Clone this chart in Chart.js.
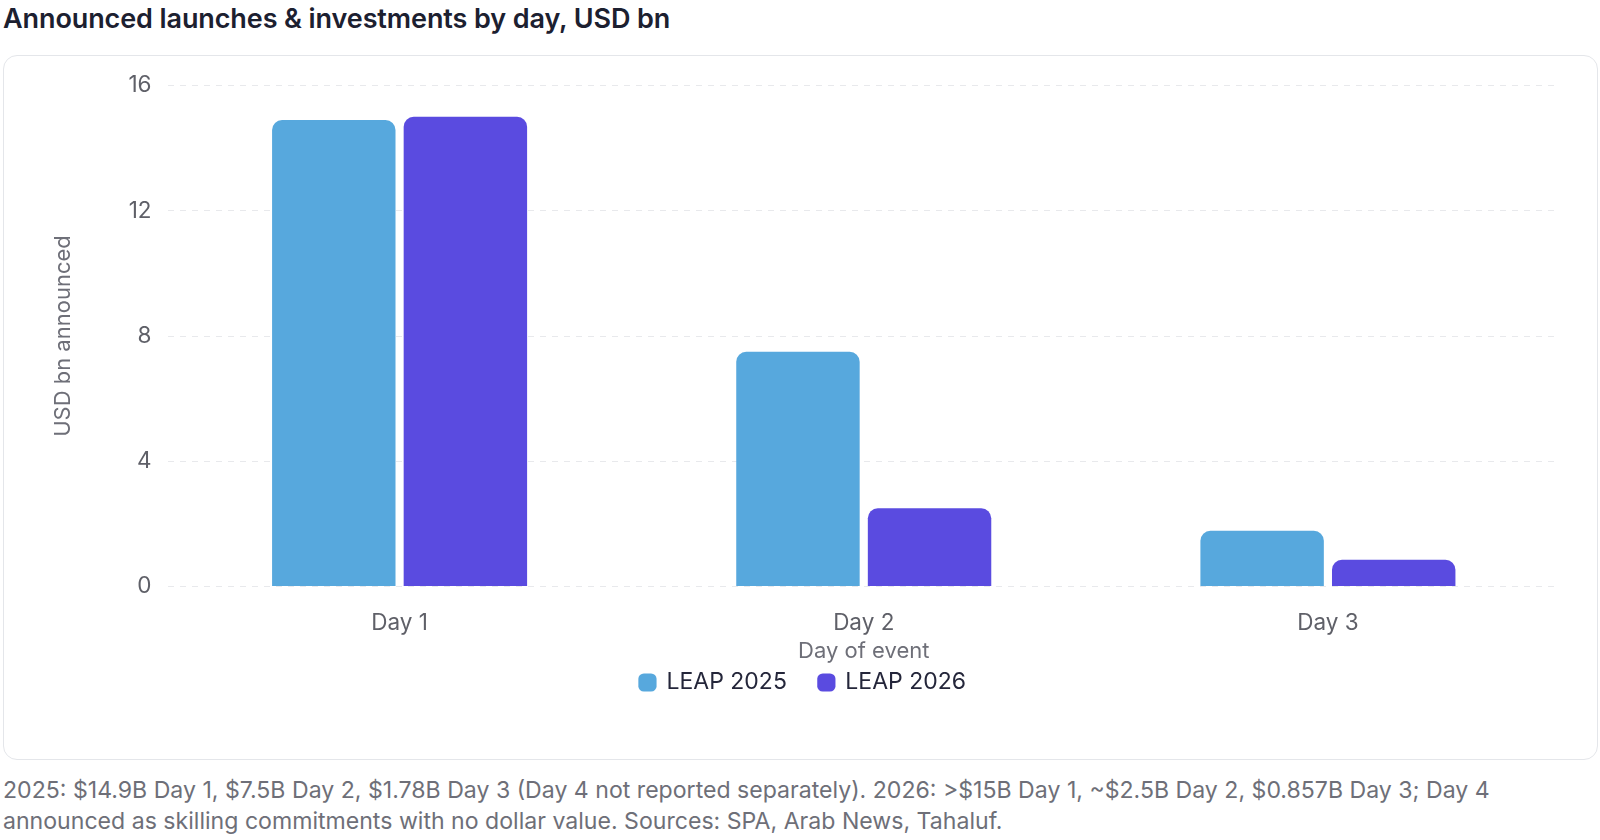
<!DOCTYPE html>
<html><head><meta charset="utf-8">
<script src="https://cdn.jsdelivr.net/npm/chart.js@4.4.1/dist/chart.umd.min.js"></script>
<style>
html,body{margin:0;padding:0;background:#fff;width:1600px;height:840px;overflow:hidden;font-family:Inter,"Noto Sans",sans-serif;}
#title{position:absolute;left:3px;top:2px;font-size:27px;font-weight:600;color:#1c2030;letter-spacing:-0.1px;}
#card{position:absolute;left:3px;top:55px;width:1593px;height:703px;border:1px solid #e4e6ea;border-radius:14px;background:#fff;}
#wrap{position:absolute;left:0;top:0;width:1593px;height:703px;}
#foot{position:absolute;left:3px;top:775px;width:1540px;font-size:23.1px;line-height:31px;color:#6e6f78;}
</style></head>
<body>
<div id="title">Announced launches &amp; investments by day, USD bn</div>
<div id="card"><div id="wrap"><canvas id="c"></canvas></div></div>
<div id="foot">2025: $14.9B Day 1, $7.5B Day 2, $1.78B Day 3 (Day 4 not reported separately). 2026: &gt;$15B Day 1, ~$2.5B Day 2, $0.857B Day 3; Day 4 announced as skilling commitments with no dollar value. Sources: SPA, Arab News, Tahaluf.</div>
<script>
const categories = ["Day 1", "Day 2", "Day 3"];
const leap2025 = [14.9, 7.5, 1.78];
const leap2026 = [15, 2.5, 0.857];
const yTicks = [0, 4, 8, 12, 16];

Chart.defaults.font.family = "Inter, 'Noto Sans', sans-serif";
new Chart(document.getElementById('c'), {
  type: 'bar',
  data: {
    labels: categories,
    datasets: [
      {label: 'LEAP 2025', data: leap2025, backgroundColor: '#57a8dd', borderRadius: 10, borderSkipped: 'bottom'},
      {label: 'LEAP 2026', data: leap2026, backgroundColor: '#5a4be0', borderRadius: 10, borderSkipped: 'bottom'}
    ]
  },
  options: {
    responsive: true,
    maintainAspectRatio: false,
    animation: false,
    categoryPercentage: 0.567,
    barPercentage: 0.938,
    layout: {padding: {left: 42, right: 37, top: 26, bottom: 55}},
    plugins: {
      tooltip: {enabled: false},
      legend: {
        position: 'bottom',
        labels: {
          usePointStyle: true, pointStyle: 'rectRounded', boxWidth: 15, boxHeight: 15,
          padding: 32, color: '#24263a', font: {size: 23}
        }
      }
    },
    scales: {
      x: {
        grid: {display: false},
        border: {display: false},
        ticks: {color: '#5f6068', font: {size: 22.5}, padding: 15},
        title: {display: true, text: 'Day of event', color: '#6e6f78', font: {size: 22}, padding: {top: -13, bottom: -26}}
      },
      y: {
        min: 0, max: 16,
        afterBuildTicks: (axis) => { axis.ticks = yTicks.map(v => ({value: v})); },
        grid: {color: '#e8e9ec', lineWidth: 1, drawTicks: false},
        border: {display: false, dash: [6, 6]},
        ticks: {color: '#5f6068', font: {size: 22.5}, padding: 16},
        title: {display: true, text: 'USD bn announced', color: '#6e6f78', font: {size: 22}, padding: {bottom: 36}}
      }
    }
  }
});
</script>
</body></html>
